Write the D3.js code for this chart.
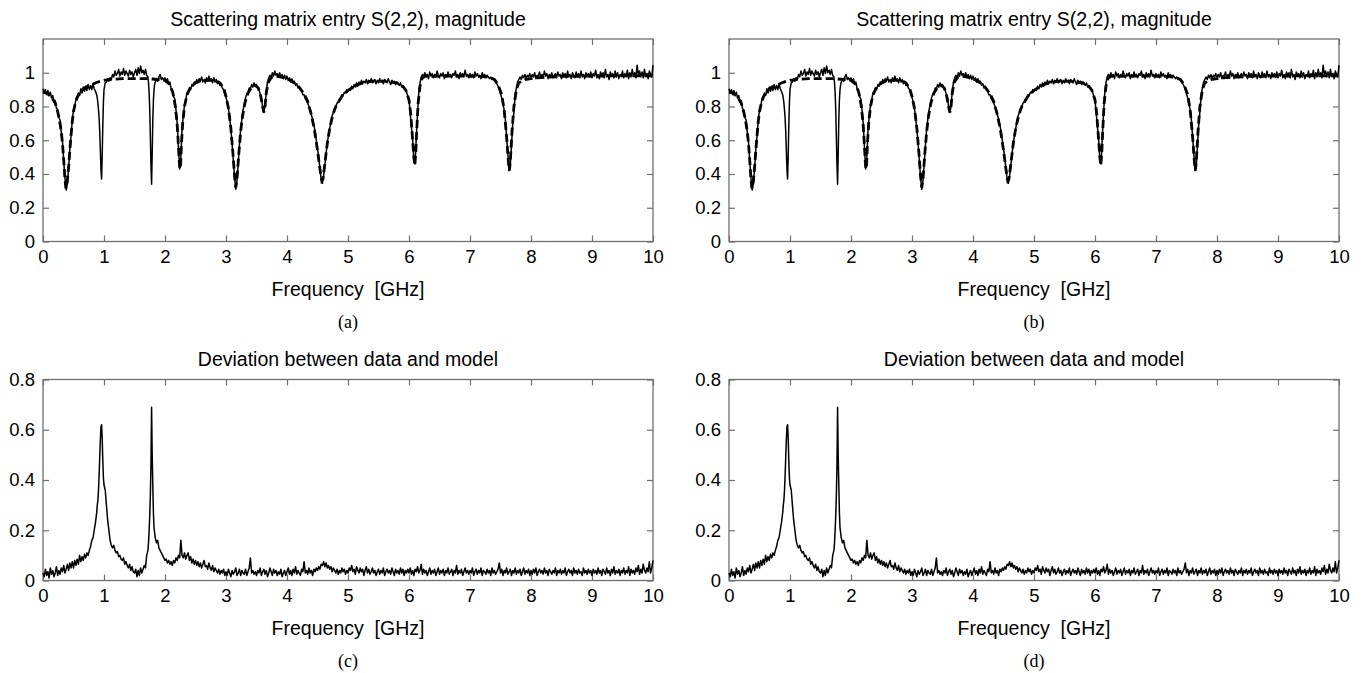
<!DOCTYPE html>
<html>
<head>
<meta charset="utf-8">
<script src="https://cdnjs.cloudflare.com/ajax/libs/d3/7.8.5/d3.min.js"></script>
<style>
    body { margin: 0; background: #fff; }
    text { font-family: "Liberation Sans", Arial, Helvetica, sans-serif; }
</style>
</head>
<body>
<div id="figure"></div>
<script>

// Frequency grid of the measurement, in units of 10 MHz (1 unit steps in the two narrow dips)
const freqGrid = [
    0, 2, 4, 6, 8, 10, 12, 14, 16, 18, 20, 22, 24, 26, 28, 30, 32, 34, 36, 38, 40, 42, 44, 46, 48,
    50, 52, 54, 56, 58, 60, 62, 64, 66, 68, 70, 72, 74, 76, 78, 80, 82, 84, 86,
    87, 88, 89, 90, 91, 92, 93, 94, 95, 96, 97, 98, 99,
    100, 102, 104, 106, 108, 110, 112, 114, 116, 118, 120, 122, 124, 126, 128, 130, 132, 134, 136, 138, 140, 142, 144, 146, 148,
    150, 152, 154, 156, 158, 160, 162, 164, 166, 168, 170, 172,
    173, 174, 175, 176, 177, 178, 179, 180, 181, 182, 183,
    184, 186, 188, 190, 192, 194, 196, 198,
    200, 202, 204, 206, 208, 210, 212, 214, 216, 218, 220, 222, 224, 226, 228, 230, 232, 234, 236, 238, 240, 242, 244, 246, 248,
    250, 252, 254, 256, 258, 260, 262, 264, 266, 268, 270, 272, 274, 276, 278, 280, 282, 284, 286, 288, 290, 292, 294, 296, 298,
    300, 302, 304, 306, 308, 310, 312, 314, 316, 318, 320, 322, 324, 326, 328, 330, 332, 334, 336, 338, 340, 342, 344, 346, 348,
    350, 352, 354, 356, 358, 360, 362, 364, 366, 368, 370, 372, 374, 376, 378, 380, 382, 384, 386, 388, 390, 392, 394, 396, 398,
    400, 402, 404, 406, 408, 410, 412, 414, 416, 418, 420, 422, 424, 426, 428, 430, 432, 434, 436, 438, 440, 442, 444, 446, 448,
    450, 452, 454, 456, 458, 460, 462, 464, 466, 468, 470, 472, 474, 476, 478, 480, 482, 484, 486, 488, 490, 492, 494, 496, 498,
    500, 502, 504, 506, 508, 510, 512, 514, 516, 518, 520, 522, 524, 526, 528, 530, 532, 534, 536, 538, 540, 542, 544, 546, 548,
    550, 552, 554, 556, 558, 560, 562, 564, 566, 568, 570, 572, 574, 576, 578, 580, 582, 584, 586, 588, 590, 592, 594, 596, 598,
    600, 602, 604, 606, 608, 610, 612, 614, 616, 618, 620, 622, 624, 626, 628, 630, 632, 634, 636, 638, 640, 642, 644, 646, 648,
    650, 652, 654, 656, 658, 660, 662, 664, 666, 668, 670, 672, 674, 676, 678, 680, 682, 684, 686, 688, 690, 692, 694, 696, 698,
    700, 702, 704, 706, 708, 710, 712, 714, 716, 718, 720, 722, 724, 726, 728, 730, 732, 734, 736, 738, 740, 742, 744, 746, 748,
    750, 752, 754, 756, 758, 760, 762, 764, 766, 768, 770, 772, 774, 776, 778, 780, 782, 784, 786, 788, 790, 792, 794, 796, 798,
    800, 802, 804, 806, 808, 810, 812, 814, 816, 818, 820, 822, 824, 826, 828, 830, 832, 834, 836, 838, 840, 842, 844, 846, 848,
    850, 852, 854, 856, 858, 860, 862, 864, 866, 868, 870, 872, 874, 876, 878, 880, 882, 884, 886, 888, 890, 892, 894, 896, 898,
    900, 902, 904, 906, 908, 910, 912, 914, 916, 918, 920, 922, 924, 926, 928, 930, 932, 934, 936, 938, 940, 942, 944, 946, 948,
    950, 952, 954, 956, 958, 960, 962, 964, 966, 968, 970, 972, 974, 976, 978, 980, 982, 984, 986, 988, 990, 992, 994, 996, 998, 1000
];

// Measured |S(2,2)| on the grid above
const measuredMag = [
    0.905, 0.88, 0.9, 0.87, 0.895, 0.865, 0.885, 0.85, 0.865, 0.825, 0.835, 0.79, 0.78, 0.735, 0.72, 0.645, 0.59, 0.475, 0.375, 0.305, 0.345, 0.435, 0.55, 0.625, 0.72,
    0.78, 0.8, 0.845, 0.84, 0.88, 0.865, 0.905, 0.88, 0.915, 0.89, 0.92, 0.895, 0.93, 0.9, 0.925, 0.9, 0.935, 0.905, 0.89,
    0.88, 0.87, 0.85, 0.82, 0.78, 0.73, 0.65, 0.54, 0.43, 0.37, 0.5, 0.68, 0.82,
    0.9, 0.94, 0.945, 0.965, 0.95, 0.97, 0.96, 0.99, 0.975, 1.01, 0.985, 0.995, 1.02, 0.98, 1.005, 0.99, 1.025, 0.985, 1.01, 0.995, 0.98, 1.015, 0.99, 1.005, 0.975,
    1.0, 1.02, 0.985, 1.03, 0.995, 1.04, 1.0, 1.015, 0.99, 1.02, 0.985, 0.975,
    0.94, 0.88, 0.78, 0.62, 0.45, 0.34, 0.52, 0.72, 0.84, 0.9, 0.93,
    0.945, 0.96, 0.95, 0.975, 0.99, 0.96, 0.97, 0.955,
    0.97, 0.945, 0.965, 0.935, 0.945, 0.905, 0.9, 0.86, 0.845, 0.78, 0.7, 0.56, 0.43, 0.5, 0.67, 0.745, 0.81, 0.84, 0.88, 0.875, 0.91, 0.9, 0.93, 0.92, 0.945,
    0.935, 0.96, 0.94, 0.965, 0.95, 0.975, 0.945, 0.96, 0.94, 0.97, 0.95, 0.98, 0.955, 0.965, 0.94, 0.97, 0.945, 0.96, 0.935, 0.95, 0.925, 0.93, 0.91, 0.9, 0.875,
    0.855, 0.825, 0.79, 0.73, 0.665, 0.58, 0.48, 0.38, 0.31, 0.36, 0.46, 0.57, 0.665, 0.725, 0.78, 0.815, 0.85, 0.875, 0.88, 0.91, 0.905, 0.93, 0.915, 0.94, 0.92,
    0.93, 0.91, 0.9, 0.875, 0.85, 0.8, 0.765, 0.8, 0.89, 0.945, 0.97, 0.985, 0.97, 1.0, 0.98, 1.01, 0.985, 0.995, 0.975, 1.0, 0.97, 0.99, 0.965, 0.985, 0.96,
    0.98, 0.955, 0.97, 0.945, 0.965, 0.94, 0.95, 0.925, 0.935, 0.91, 0.915, 0.895, 0.895, 0.87, 0.87, 0.845, 0.835, 0.82, 0.8, 0.785, 0.75, 0.725, 0.69, 0.655, 0.6,
    0.55, 0.5, 0.43, 0.37, 0.345, 0.39, 0.45, 0.52, 0.58, 0.63, 0.67, 0.71, 0.745, 0.765, 0.79, 0.8, 0.82, 0.825, 0.845, 0.85, 0.87, 0.865, 0.885, 0.88, 0.9,
    0.89, 0.905, 0.895, 0.92, 0.905, 0.93, 0.915, 0.94, 0.92, 0.945, 0.93, 0.955, 0.935, 0.95, 0.94, 0.96, 0.935, 0.955, 0.945, 0.965, 0.94, 0.95, 0.96, 0.935, 0.955,
    0.94, 0.965, 0.945, 0.955, 0.935, 0.96, 0.95, 0.94, 0.965, 0.945, 0.93, 0.955, 0.94, 0.95, 0.93, 0.945, 0.935, 0.925, 0.94, 0.915, 0.92, 0.905, 0.9, 0.885, 0.86,
    0.84, 0.76, 0.68, 0.6, 0.48, 0.46, 0.62, 0.76, 0.88, 0.94, 0.975, 0.99, 0.975, 1.0, 0.98, 0.99, 0.965, 1.005, 0.98, 0.995, 0.97, 0.99, 0.975, 1.01, 0.985,
    0.97, 0.995, 0.98, 1.0, 0.965, 0.99, 0.975, 1.005, 0.98, 0.99, 0.97, 0.995, 0.985, 1.01, 0.975, 0.99, 0.965, 1.0, 0.98, 0.995, 0.975, 1.015, 0.98, 0.99, 0.97,
    0.995, 0.975, 0.99, 0.97, 1.005, 0.98, 0.995, 0.975, 0.985, 0.965, 1.0, 0.98, 0.99, 0.97, 0.985, 0.975, 0.965, 0.975, 0.96, 0.965, 0.955, 0.945, 0.935, 0.92, 0.9,
    0.875, 0.85, 0.815, 0.78, 0.72, 0.62, 0.52, 0.42, 0.45, 0.57, 0.69, 0.77, 0.86, 0.91, 0.945, 0.96, 0.975, 0.96, 0.985, 0.97, 0.99, 0.965, 0.985, 0.975, 0.995,
    0.97, 0.99, 0.975, 1.0, 0.965, 0.985, 0.98, 1.005, 0.97, 0.99, 0.975, 1.01, 0.98, 0.995, 0.965, 0.99, 0.975, 1.0, 0.97, 0.985, 0.995, 0.97, 1.005, 0.98, 0.99,
    0.965, 1.0, 0.98, 0.995, 0.97, 1.01, 0.975, 0.99, 0.965, 1.0, 0.985, 0.97, 1.005, 0.98, 0.995, 0.97, 1.01, 0.975, 0.99, 0.965, 1.0, 0.98, 0.995, 0.975, 1.005,
    0.97, 0.995, 0.98, 1.015, 0.97, 0.99, 0.965, 1.005, 0.98, 1.0, 0.97, 1.02, 0.975, 0.99, 0.96, 1.005, 0.985, 0.995, 0.97, 1.01, 0.975, 1.0, 0.965, 0.99, 0.98,
    1.01, 0.97, 0.995, 0.98, 1.015, 0.965, 1.0, 0.975, 1.02, 0.98, 1.0, 0.97, 1.045, 0.985, 1.01, 0.975, 1.005, 0.97, 1.02, 0.98, 0.995, 0.965, 1.01, 0.985, 0.975, 1.045
];

// Deviation between data and model on the same grid
const deviation = [
    0.03, 0.015, 0.045, 0.02, 0.035, 0.01, 0.05, 0.025, 0.04, 0.015, 0.03, 0.055, 0.02, 0.04, 0.025, 0.05, 0.035, 0.06, 0.03, 0.045, 0.065, 0.04, 0.07, 0.05, 0.075,
    0.05, 0.08, 0.06, 0.085, 0.065, 0.1, 0.075, 0.095, 0.08, 0.105, 0.09, 0.11, 0.1, 0.12, 0.135, 0.16, 0.17, 0.2, 0.23,
    0.25, 0.27, 0.3, 0.32, 0.36, 0.42, 0.49, 0.56, 0.61, 0.62, 0.57, 0.48, 0.41,
    0.38, 0.36, 0.3, 0.24, 0.2, 0.16, 0.14, 0.13, 0.14, 0.12, 0.11, 0.115, 0.095, 0.1, 0.085, 0.08, 0.09, 0.065, 0.075, 0.06, 0.05, 0.065, 0.04, 0.055, 0.035,
    0.03, 0.045, 0.015, 0.04, 0.02, 0.05, 0.03, 0.045, 0.06, 0.05, 0.1, 0.12,
    0.15, 0.2, 0.26, 0.34, 0.46, 0.69, 0.5, 0.38, 0.27, 0.21, 0.19,
    0.17, 0.15, 0.16, 0.13, 0.12, 0.11, 0.1, 0.09,
    0.08, 0.085, 0.07, 0.08, 0.065, 0.075, 0.06, 0.08, 0.07, 0.09, 0.08, 0.1, 0.09, 0.16, 0.1, 0.09, 0.11, 0.085, 0.1, 0.11, 0.08, 0.095, 0.07, 0.085, 0.065,
    0.08, 0.06, 0.075, 0.055, 0.07, 0.05, 0.065, 0.08, 0.055, 0.06, 0.045, 0.07, 0.05, 0.04, 0.06, 0.035, 0.05, 0.04, 0.03, 0.045, 0.025, 0.04, 0.03, 0.045, 0.02,
    0.035, 0.02, 0.045, 0.03, 0.015, 0.04, 0.025, 0.035, 0.05, 0.02, 0.03, 0.045, 0.02, 0.04, 0.03, 0.025, 0.045, 0.02, 0.035, 0.05, 0.09, 0.03, 0.04, 0.025, 0.035,
    0.02, 0.04, 0.03, 0.05, 0.02, 0.035, 0.045, 0.025, 0.04, 0.015, 0.03, 0.05, 0.035, 0.02, 0.045, 0.03, 0.04, 0.02, 0.035, 0.025, 0.045, 0.015, 0.03, 0.04, 0.02,
    0.035, 0.05, 0.025, 0.04, 0.02, 0.045, 0.03, 0.055, 0.025, 0.04, 0.03, 0.02, 0.045, 0.035, 0.075, 0.03, 0.04, 0.025, 0.05, 0.03, 0.04, 0.02, 0.045, 0.035, 0.05,
    0.04, 0.055, 0.045, 0.065, 0.06, 0.075, 0.055, 0.07, 0.05, 0.06, 0.045, 0.055, 0.035, 0.05, 0.04, 0.03, 0.045, 0.025, 0.04, 0.03, 0.05, 0.035, 0.045, 0.025, 0.04,
    0.03, 0.05, 0.04, 0.06, 0.035, 0.045, 0.025, 0.055, 0.04, 0.03, 0.05, 0.035, 0.045, 0.02, 0.04, 0.055, 0.03, 0.045, 0.025, 0.035, 0.05, 0.03, 0.04, 0.02, 0.035,
    0.045, 0.025, 0.04, 0.03, 0.05, 0.02, 0.035, 0.045, 0.03, 0.04, 0.025, 0.05, 0.035, 0.02, 0.045, 0.03, 0.04, 0.025, 0.05, 0.03, 0.045, 0.02, 0.04, 0.03, 0.045,
    0.03, 0.05, 0.025, 0.04, 0.02, 0.045, 0.035, 0.055, 0.03, 0.04, 0.065, 0.025, 0.045, 0.03, 0.04, 0.02, 0.035, 0.05, 0.025, 0.04, 0.03, 0.045, 0.02, 0.035, 0.05,
    0.025, 0.04, 0.03, 0.045, 0.02, 0.04, 0.03, 0.05, 0.025, 0.035, 0.045, 0.02, 0.04, 0.03, 0.06, 0.025, 0.04, 0.03, 0.045, 0.02, 0.035, 0.05, 0.03, 0.04, 0.025,
    0.04, 0.03, 0.05, 0.02, 0.035, 0.045, 0.025, 0.04, 0.03, 0.05, 0.02, 0.04, 0.035, 0.025, 0.045, 0.03, 0.04, 0.02, 0.05, 0.03, 0.04, 0.025, 0.035, 0.045, 0.07,
    0.03, 0.045, 0.02, 0.04, 0.03, 0.05, 0.025, 0.035, 0.045, 0.02, 0.04, 0.03, 0.05, 0.025, 0.04, 0.03, 0.045, 0.02, 0.035, 0.05, 0.025, 0.04, 0.03, 0.045, 0.02,
    0.04, 0.025, 0.045, 0.03, 0.05, 0.02, 0.035, 0.045, 0.03, 0.04, 0.025, 0.05, 0.03, 0.04, 0.02, 0.045, 0.035, 0.025, 0.04, 0.03, 0.05, 0.02, 0.04, 0.03, 0.045,
    0.025, 0.04, 0.03, 0.05, 0.02, 0.035, 0.045, 0.03, 0.04, 0.02, 0.05, 0.03, 0.04, 0.025, 0.045, 0.03, 0.035, 0.02, 0.05, 0.03, 0.04, 0.025, 0.045, 0.03, 0.04,
    0.02, 0.045, 0.03, 0.04, 0.025, 0.05, 0.03, 0.04, 0.02, 0.045, 0.035, 0.025, 0.05, 0.03, 0.04, 0.02, 0.045, 0.03, 0.055, 0.025, 0.04, 0.03, 0.045, 0.02, 0.04,
    0.03, 0.05, 0.025, 0.04, 0.03, 0.055, 0.02, 0.045, 0.03, 0.04, 0.025, 0.05, 0.035, 0.06, 0.025, 0.045, 0.03, 0.065, 0.04, 0.03, 0.05, 0.035, 0.075, 0.03, 0.05, 0.08
];

// Model curve (dashed), GHz
const modelFreq = [
    0, 0.05, 0.10, 0.15, 0.20, 0.24, 0.27, 0.30, 0.32, 0.34,
    0.36, 0.375, 0.39, 0.42, 0.44, 0.46, 0.48, 0.50, 0.53, 0.56,
    0.60, 0.65, 0.70, 0.80, 0.90, 1.00, 1.10, 1.30, 1.50, 1.70,
    1.90, 2.00, 2.08, 2.13, 2.17, 2.20, 2.22, 2.235, 2.245, 2.255,
    2.27, 2.29, 2.32, 2.36, 2.42, 2.50, 2.60, 2.80, 2.90, 2.96,
    3.00, 3.04, 3.08, 3.11, 3.14, 3.16, 3.18, 3.21, 3.24, 3.27,
    3.31, 3.36, 3.42, 3.48, 3.53, 3.57, 3.60, 3.62, 3.64, 3.66,
    3.69, 3.74, 3.80, 3.90, 4.00, 4.10, 4.20, 4.28, 4.34, 4.40,
    4.45, 4.50, 4.54, 4.57, 4.59, 4.62, 4.66, 4.70, 4.75, 4.80,
    4.90, 5.00, 5.10, 5.20, 5.40, 5.60, 5.80, 5.90, 5.95, 6.00,
    6.03, 6.06, 6.08, 6.095, 6.11, 6.13, 6.15, 6.18, 6.21, 6.26,
    6.50, 7.00, 7.30, 7.40, 7.46, 7.52, 7.56, 7.60, 7.63, 7.645,
    7.66, 7.69, 7.72, 7.76, 7.80, 7.90, 8.10, 8.50, 9.00, 9.50,
    10.00
];

const modelMag = [
    0.885, 0.88, 0.87, 0.85, 0.82, 0.77, 0.72, 0.65, 0.58, 0.48,
    0.37, 0.315, 0.33, 0.44, 0.54, 0.63, 0.71, 0.77, 0.82, 0.855,
    0.88, 0.9, 0.915, 0.93, 0.945, 0.955, 0.96, 0.965, 0.965, 0.965,
    0.96, 0.955, 0.93, 0.88, 0.8, 0.69, 0.57, 0.47, 0.43, 0.45,
    0.58, 0.7, 0.8, 0.87, 0.915, 0.94, 0.955, 0.955, 0.94, 0.91,
    0.86, 0.79, 0.67, 0.54, 0.39, 0.32, 0.37, 0.52, 0.65, 0.74,
    0.82, 0.88, 0.915, 0.925, 0.91, 0.86, 0.8, 0.765, 0.8, 0.88,
    0.94, 0.97, 0.98, 0.975, 0.965, 0.945, 0.915, 0.875, 0.83, 0.75,
    0.66, 0.54, 0.43, 0.36, 0.37, 0.46, 0.58, 0.67, 0.75, 0.8,
    0.86, 0.895, 0.92, 0.935, 0.95, 0.95, 0.94, 0.92, 0.895, 0.84,
    0.75, 0.6, 0.5, 0.45, 0.52, 0.68, 0.82, 0.92, 0.965, 0.978,
    0.98, 0.98, 0.975, 0.96, 0.93, 0.87, 0.78, 0.62, 0.47, 0.42,
    0.47, 0.66, 0.8, 0.9, 0.94, 0.96, 0.97, 0.978, 0.98, 0.982,
    0.982
];

const xTicks = [0, 1, 2, 3, 4, 5, 6, 7, 8, 9, 10];
const magTicks = [0, 0.2, 0.4, 0.6, 0.8, 1];
const devTicks = [0, 0.2, 0.4, 0.6, 0.8];
const titleTop = "Scattering matrix entry S(2,2), magnitude";
const titleBottom = "Deviation between data and model";
const xLabel = "Frequency\u00a0 [GHz]";
const panelLetters = ["(a)", "(b)", "(c)", "(d)"];


// Tables built from the arrays

const measured = freqGrid.map((f, i) => ({ f: f / 100, v: measuredMag[i] }))
    .filter(d => d.v !== undefined);
const dev = freqGrid.map((f, i) => ({ f: f / 100, v: deviation[i] }))
    .filter(d => d.v !== undefined);
const model = modelFreq.map((f, i) => ({ f: f, v: modelMag[i] }))
    .filter(d => d.v !== undefined);


// Canevas

const W = 1364;
const H = 673;
const plotW = 610;
const lefts = [43, 729];
const tops = [39, 379.5];
const heights = [202.5, 201];
const axisGrey = "#6f6f6f";

const svg = d3.select("#figure")
    .append("svg")
    .attr("width", W)
    .attr("height", H);


function drawPanel(col, row, letter) {

    const top = row === 0;
    const plotH = heights[row];

    const g = svg.append("g")
        .attr("transform", `translate(${lefts[col]}, ${tops[row]})`);

    const scaleX = d3.scaleLinear()
        .domain([0, 10])
        .range([0, plotW]);

    const scaleY = d3.scaleLinear()
        .domain(top ? [0, 1.2] : [0, 0.8])
        .range([plotH, 0]);

    const yTicks = top ? magTicks : devTicks;

    // Axes (ticks pointing inward)

    g.append("g")
        .attr("transform", `translate(0, ${plotH})`)
        .call(d3.axisBottom(scaleX).tickValues(xTicks).tickSize(-6).tickPadding(8)
            .tickFormat(d3.format("d")));

    g.append("g")
        .call(d3.axisTop(scaleX).tickValues(xTicks).tickSize(-6).tickFormat(""));

    g.append("g")
        .call(d3.axisLeft(scaleY).tickValues(yTicks).tickSize(-6).tickPadding(8)
            .tickFormat(d => d === 0 || d === 1 ? d3.format("d")(d) : d3.format(".1f")(d)));

    g.append("g")
        .attr("transform", `translate(${plotW}, 0)`)
        .call(d3.axisRight(scaleY).tickValues(yTicks).tickSize(-6).tickFormat(""));

    g.selectAll(".domain").remove();
    g.selectAll(".tick line")
        .attr("stroke", axisGrey)
        .attr("stroke-width", 1.2);
    g.selectAll(".tick text")
        .attr("fill", "#000")
        .attr("font-size", "18.5px")
        .attr("font-family", "'Liberation Sans', Arial, sans-serif");

    g.append("rect")
        .attr("width", plotW)
        .attr("height", plotH)
        .attr("fill", "none")
        .attr("stroke", axisGrey)
        .attr("stroke-width", 1.3);

    // Courbes

    const line = d3.line()
        .x(d => scaleX(d.f))
        .y(d => scaleY(d.v));

    if (top) {
        g.append("path")
            .datum(model)
            .attr("fill", "none")
            .attr("stroke", "#000")
            .attr("stroke-width", 2.8)
            .attr("stroke-dasharray", "8,4")
            .attr("d", line);

        g.append("path")
            .datum(measured)
            .attr("fill", "none")
            .attr("stroke", "#000")
            .attr("stroke-width", 1.5)
            .attr("stroke-linejoin", "round")
            .attr("d", line);
    } else {
        g.append("path")
            .datum(dev)
            .attr("fill", "none")
            .attr("stroke", "#000")
            .attr("stroke-width", 1.5)
            .attr("stroke-linejoin", "round")
            .attr("d", line);
    }

    // Textes

    g.append("text")
        .attr("x", plotW / 2)
        .attr("y", -13.5)
        .attr("text-anchor", "middle")
        .attr("font-size", "19.5px")
        .text(top ? titleTop : titleBottom);

    g.append("text")
        .attr("x", plotW / 2)
        .attr("y", plotH + 54)
        .attr("text-anchor", "middle")
        .attr("font-size", "19.5px")
        .text(xLabel);

    g.append("text")
        .attr("x", plotW / 2)
        .attr("y", plotH + 86)
        .attr("text-anchor", "middle")
        .attr("font-size", "18px")
        .style("font-family", "'Liberation Serif', 'Times New Roman', serif")
        .text(letter);
}

drawPanel(0, 0, panelLetters[0]);
drawPanel(1, 0, panelLetters[1]);
drawPanel(0, 1, panelLetters[2]);
drawPanel(1, 1, panelLetters[3]);

</script>
</body>
</html>
